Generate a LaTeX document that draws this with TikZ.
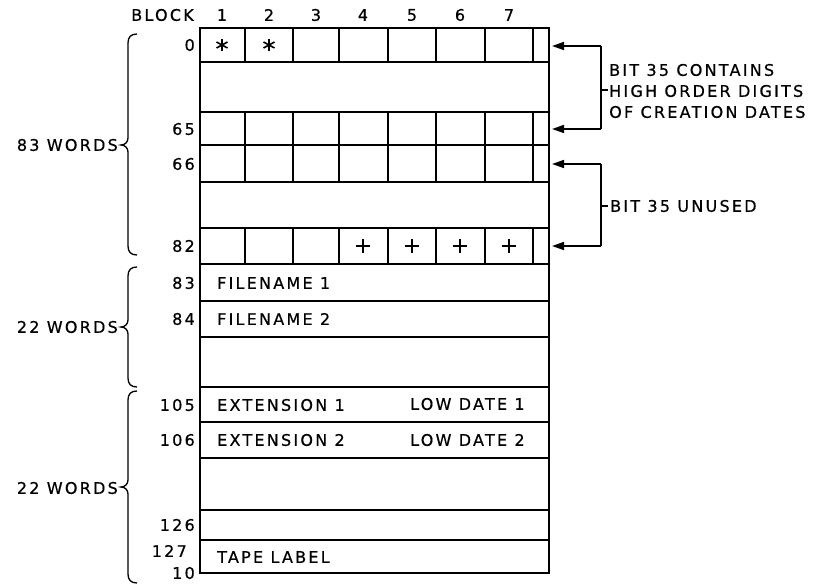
\documentclass[tikz,border=0pt]{standalone}
\usepackage{fontspec}
\setmainfont{DejaVu Sans}[LetterSpace=14, FakeBold=0.6]
\usetikzlibrary{arrows.meta}
\tikzset{
  lbl/.style={inner sep=0pt, font=\fontsize{16}{19}\selectfont},
  rowlbl/.style={lbl, anchor=east},
  celltxt/.style={lbl, anchor=west},
  outer/.style={line width=2.3pt},
  inner/.style={line width=1.5pt},
  mark line/.style={line width=1.6pt},
  bracefig/.style={line width=1.3pt},
  ptr/.style={line width=1.6pt, -{Triangle[length=12pt,width=8pt]}},
  brk/.style={line width=1.6pt},
}
\begin{document}
\begin{tikzpicture}[x=1pt,y=-1pt]
\useasboundingbox (0,0) rectangle (821,585);
% header
\node[lbl, anchor=east] (hblock) at (194,15) {BLOCK};
\foreach \i/\x in {1/222,2/269,3/316,4/363,5/412,6/460,7/509}
  \node[lbl] (h\i) at (\x,15) {\i};
% horizontal row lines
\foreach \y in {62,112,145,182,228,264,301,337,387,422,458,510,540}
  \draw[inner] (200,\y) -- (549,\y);
% column lines in word rows
\foreach \x in {245,293,339,388,436,485,533}{
  \draw[inner] (\x,28) -- (\x,62);
  \draw[inner] (\x,112) -- (\x,182);
  \draw[inner] (\x,228) -- (\x,264);
}
% outer frame
\draw[outer] (200,28) rectangle (549,573);
% row labels
\node[rowlbl] (r0) at (195,45) {0};
\node[rowlbl] (r65) at (195,129) {65};
\node[rowlbl] (r66) at (195,164) {66};
\node[rowlbl] (r82) at (195,246) {82};
\node[rowlbl] (r83) at (195,283) {83};
\node[rowlbl] (r84) at (195,319) {84};
\node[rowlbl] (r105) at (195,405) {105};
\node[rowlbl] (r106) at (195,440) {106};
\node[rowlbl] (r126) at (195,525) {126};
\node[rowlbl] (r127) at (187,551) {127};
\node[rowlbl] (r10) at (195,573) {10};
% cell texts
\node[celltxt] (f1) at (217,283) {FILENAME 1};
\node[celltxt] (f2) at (217,319) {FILENAME 2};
\node[celltxt] (e1) at (217,405) {EXTENSION 1};
\node[celltxt] (d1) at (410,404) {LOW DATE 1};
\node[celltxt] (e2) at (217,440) {EXTENSION 2};
\node[celltxt] (d2) at (410,440) {LOW DATE 2};
\node[celltxt] (tl) at (217,557) {TAPE LABEL};
% asterisks
\foreach \x in {222,269}{
  \draw[mark line] (\x,39) -- (\x,51);
  \draw[mark line] (\x-5.5,42) -- (\x+5.5,48);
  \draw[mark line] (\x-5.5,48) -- (\x+5.5,42);
}
% plus signs
\foreach \x in {363,412,460,509}{
  \draw[mark line] (\x-7,246) -- (\x+7,246);
  \draw[mark line] (\x,239) -- (\x,253);
}
% right pointers
\coordinate (t0) at (552,46);
\coordinate (t65) at (552,129);
\coordinate (t66) at (552,164);
\coordinate (t82) at (552,246);
\coordinate (b1a) at (601,46);
\coordinate (b1b) at (601,129);
\coordinate (b1m) at (601,90);
\coordinate (b1t) at (608,90);
\coordinate (b2a) at (601,164);
\coordinate (b2b) at (601,246);
\coordinate (b2m) at (601,206);
\coordinate (b2t) at (608,206);
\draw[brk] (b1a) -- (b1b);
\draw[brk] (b1m) -- (b1t);
\draw[ptr] (b1a) -- (t0);
\draw[ptr] (b1b) -- (t65);
\draw[brk] (b2a) -- (b2b);
\draw[brk] (b2m) -- (b2t);
\draw[ptr] (b2a) -- (t66);
\draw[ptr] (b2b) -- (t82);
\node[celltxt] (n1) at (609,70) {BIT 35 CONTAINS};
\node[celltxt] (n2) at (609,91) {HIGH ORDER DIGITS};
\node[celltxt] (n3) at (609,112) {OF CREATION DATES};
\node[celltxt] (n4) at (610,206) {BIT 35 UNUSED};
% left braces
\foreach \t/\b/\m in {34/255/145, 267/387/327, 391/583/487}{
  \draw[bracefig] (137,\t) .. controls (131,\t) and (128,\t+3) .. (128,\t+9)
     -- (128,\m-7) .. controls (128,\m-3) and (125,\m) .. (121,\m)
     .. controls (125,\m) and (128,\m+3) .. (128,\m+7)
     -- (128,\b-9) .. controls (128,\b-3) and (131,\b) .. (137,\b);
}
\node[lbl, anchor=east] (w1) at (118,145) {83 WORDS};
\node[lbl, anchor=east] (w2) at (118,327) {22 WORDS};
\node[lbl, anchor=east] (w3) at (118,488) {22 WORDS};
\end{tikzpicture}
\end{document}
